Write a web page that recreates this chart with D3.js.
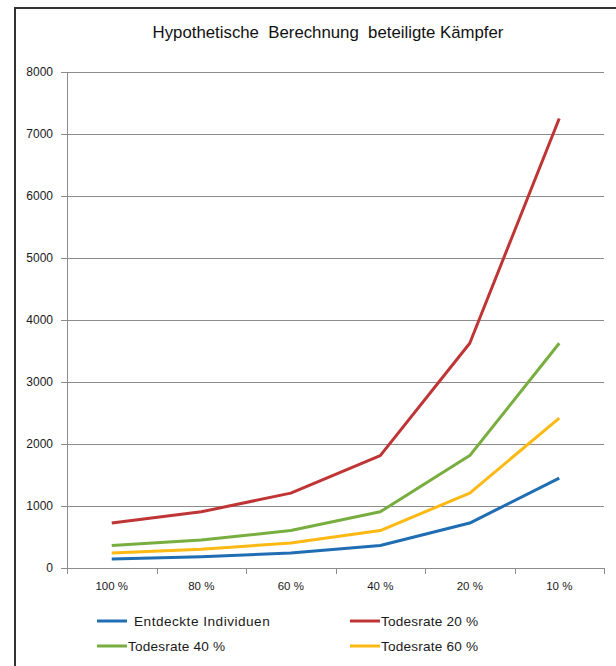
<!DOCTYPE html>
<html>
<head>
<meta charset="utf-8">
<script src="https://cdn.jsdelivr.net/npm/d3@7"></script>
<style>
  html, body { margin: 0; padding: 0; background: #fff; }
  svg { display: block; }
  text { font-family: "Liberation Sans", Arial, sans-serif; }
</style>
</head>
<body>
<script>
// Categories on the x axis (share of individuals found)
const categories = ["100 %", "80 %", "60 %", "40 %", "20 %", "10 %"];

// Series values
const entdeckte   = [145, 181, 242, 363, 725, 1450];
const todesrate20 = [725, 906, 1208, 1813, 3625, 7250];
const todesrate40 = [363, 453, 604, 906, 1813, 3625];
const todesrate60 = [242, 302, 403, 604, 1208, 2417];

const seriesNames = ["Entdeckte Individuen", "Todesrate 20 %", "Todesrate 40 %", "Todesrate 60 %"];
const yTicks = [0, 1000, 2000, 3000, 4000, 5000, 6000, 7000, 8000];
const title = "Hypothetische  Berechnung  beteiligte Kämpfer";

const series = [
  { name: seriesNames[0], values: entdeckte,   color: "#1f6db3" },
  { name: seriesNames[1], values: todesrate20, color: "#bf3535" },
  { name: seriesNames[2], values: todesrate40, color: "#78ad3f" },
  { name: seriesNames[3], values: todesrate60, color: "#fdb913" }
];

const W = 616, H = 666;
const svg = d3.select("body").append("svg").attr("width", W).attr("height", H);

// Outer frame (left and top edges)
svg.append("line").attr("x1", 15).attr("x2", 15).attr("y1", 8).attr("y2", H)
  .attr("stroke", "#333").attr("stroke-width", 2);
svg.append("line").attr("x1", 14).attr("x2", W).attr("y1", 8).attr("y2", 8)
  .attr("stroke", "#333").attr("stroke-width", 2);

// Title
svg.append("text")
  .attr("x", 328).attr("y", 38)
  .attr("text-anchor", "middle")
  .attr("font-size", 16.8)
  .attr("fill", "#111")
  .style("white-space", "pre")
  .text(title);

const plot = { left: 67, right: 604, top: 72, bottom: 568 };

const x = d3.scaleBand().domain(categories).range([plot.left, plot.right]).padding(0);
const y = d3.scaleLinear().domain([0, 8000]).range([plot.bottom, plot.top]);

// Horizontal gridlines with left ticks
const yAxis = d3.axisLeft(y).tickValues(yTicks).tickSize(-(plot.right - plot.left)).tickPadding(14)
  .tickFormat(d3.format("d"));
const gy = svg.append("g").attr("transform", `translate(${plot.left},0)`).call(yAxis);
gy.select(".domain").remove();
gy.selectAll(".tick line").attr("stroke", "#8c8c8c").attr("x1", -6);
gy.selectAll(".tick text").attr("font-size", 12).attr("fill", "#1a1a1a")
  .attr("x", -14);

// Vertical axis line
svg.append("line").attr("x1", plot.left + 0.5).attr("x2", plot.left + 0.5)
  .attr("y1", plot.top).attr("y2", plot.bottom + 6)
  .attr("stroke", "#8c8c8c");

// Category axis
const xAxis = d3.axisBottom(x).tickSize(0).tickPadding(14);
const gx = svg.append("g").attr("transform", `translate(0,${plot.bottom})`).call(xAxis);
gx.select(".domain").attr("stroke", "#8c8c8c");
gx.selectAll(".tick text").attr("font-size", 11.5).attr("fill", "#1a1a1a");
// Boundary ticks between categories
const bounds = categories.map(c => x(c)).concat([plot.right]);
gx.selectAll(".bound").data(bounds).enter().append("line")
  .attr("class", "bound")
  .attr("x1", d => Math.round(d) + 0.5).attr("x2", d => Math.round(d) + 0.5)
  .attr("y1", 0).attr("y2", 6)
  .attr("stroke", "#8c8c8c");

// Series lines
const line = d3.line()
  .x((d, i) => x(categories[i]) + x.bandwidth() / 2)
  .y(d => y(d));

svg.append("g").selectAll("path").data(series).enter().append("path")
  .attr("d", d => line(d.values))
  .attr("fill", "none")
  .attr("stroke", d => d.color)
  .attr("stroke-width", 3)
  .attr("stroke-linejoin", "round");

// Legend
const legendPos = [
  { x: 97, y: 621, gap: 7, spacing: 0.5 },
  { x: 350, y: 621, gap: 1, spacing: 0.2 },
  { x: 97, y: 646, gap: 1, spacing: 0.2 },
  { x: 350, y: 646, gap: 1, spacing: 0.2 }
];
const lg = svg.append("g").selectAll("g").data(series).enter().append("g")
  .attr("transform", (d, i) => `translate(${legendPos[i].x},${legendPos[i].y})`);
lg.append("line").attr("x1", 0).attr("x2", 30).attr("y1", 0).attr("y2", 0)
  .attr("stroke", d => d.color).attr("stroke-width", 3);
lg.append("text")
  .attr("x", (d, i) => 30 + legendPos[i].gap)
  .attr("y", 5)
  .attr("font-size", 13.6)
  .attr("letter-spacing", (d, i) => legendPos[i].spacing)
  .attr("fill", "#1a1a1a")
  .text(d => d.name);
</script>
</body>
</html>
